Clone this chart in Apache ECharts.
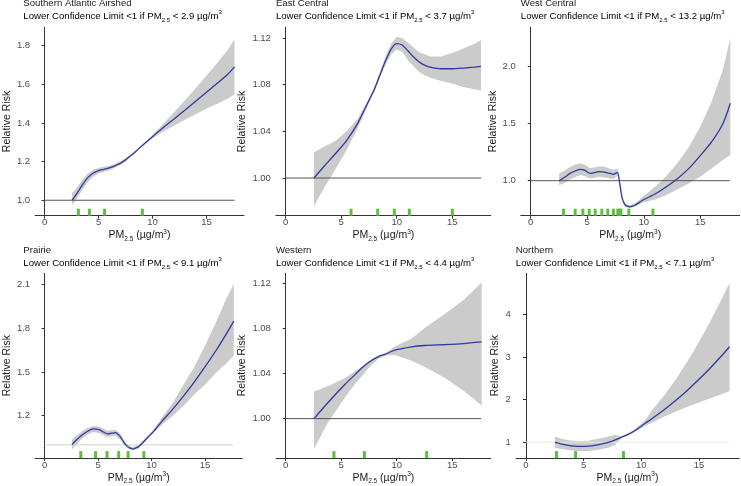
<!DOCTYPE html>
<html>
<head>
<meta charset="utf-8">
<script src="https://cdn.jsdelivr.net/npm/echarts@6/dist/echarts.min.js"></script>
<style>
html,body{margin:0;padding:0;background:#fff;}
#c{width:741px;height:486px;}
</style>
</head>
<body>
<div id="c"></div>
<script>
// ---------------- DATA ----------------
const panelTitles = ['Southern Atlantic Airshed', 'East Central', 'West Central', 'Prairie', 'Western', 'Northern'];
const lclThresholds = ['2.9', '3.7', '13.2', '9.1', '4.4', '7.1'];
const xTickValues = [0, 5, 10, 15];
const yTicks1 = [1.0, 1.2, 1.4, 1.6, 1.8];
const yTicks2 = [1.00, 1.04, 1.08, 1.12];
const yTicks3 = [1.0, 1.5, 2.0];
const yTicks4 = [1.2, 1.5, 1.8, 2.1];
const yTicks5 = [1.00, 1.04, 1.08, 1.12];
const yTicks6 = [1, 2, 3, 4];
const refLineX = [0, 17.6];

// Southern Atlantic Airshed
const p1X   = [2.55, 3, 3.5, 4, 4.5, 5, 5.5, 6, 6.5, 7, 7.5, 8, 8.5, 9, 10, 11, 12, 13, 14, 15, 16, 17, 17.6];
const p1Mid = [1.000, 1.036, 1.079, 1.117, 1.140, 1.153, 1.160, 1.167, 1.178, 1.191, 1.209, 1.231, 1.255, 1.281, 1.329, 1.376, 1.421, 1.466, 1.512, 1.559, 1.605, 1.653, 1.690];
const p1Hi  = [1.038, 1.066, 1.105, 1.139, 1.158, 1.168, 1.173, 1.179, 1.188, 1.200, 1.217, 1.237, 1.260, 1.284, 1.337, 1.396, 1.456, 1.516, 1.579, 1.644, 1.710, 1.780, 1.833];
const p1Lo  = [0.975, 1.008, 1.054, 1.095, 1.122, 1.138, 1.147, 1.155, 1.168, 1.182, 1.201, 1.225, 1.250, 1.278, 1.321, 1.356, 1.386, 1.416, 1.445, 1.474, 1.500, 1.526, 1.547];
const p1Rug = [3.13, 4.15, 5.56, 9.06];

// East Central
const p2X   = [2.55, 3.5, 4.5, 5.5, 6.5, 7.5, 8, 8.5, 9, 9.5, 10, 10.5, 11, 11.5, 12, 12.5, 13, 14, 15, 16, 17, 17.6];
const p2Mid = [1.000, 1.0105, 1.021, 1.0323, 1.047, 1.0664, 1.0763, 1.0885, 1.1004, 1.1104, 1.1152, 1.114, 1.109, 1.1038, 1.0996, 1.0967, 1.095, 1.0936, 1.0936, 1.0942, 1.095, 1.0956];
const p2Hi  = [1.022, 1.027, 1.032, 1.040, 1.051, 1.068, 1.078, 1.091, 1.104, 1.115, 1.121, 1.120, 1.116, 1.112, 1.108, 1.106, 1.104, 1.104, 1.107, 1.111, 1.115, 1.118];
const p2Lo  = [0.976, 0.992, 1.008, 1.024, 1.043, 1.064, 1.074, 1.086, 1.097, 1.106, 1.110, 1.108, 1.101, 1.096, 1.091, 1.088, 1.086, 1.083, 1.081, 1.078, 1.076, 1.075];
const p2Rug = [5.89, 8.29, 9.79, 11.14, 15.02];

// West Central
const p3X   = [2.51, 3, 3.48, 4, 4.4, 4.8, 5.26, 5.6, 6, 6.4, 6.73, 7, 7.32, 7.5, 7.68, 7.85, 8.06, 8.2, 8.36, 8.6, 8.8, 9.2, 9.7, 10, 11, 12, 13, 14, 15, 16, 17, 17.66];
const p3Mid = [1.0, 1.03, 1.064, 1.088, 1.099, 1.09, 1.064, 1.07, 1.079, 1.078, 1.07, 1.064, 1.056, 1.065, 1.073, 0.991, 0.86, 0.815, 0.787, 0.775, 0.772, 0.785, 0.816, 0.835, 0.883, 0.947, 1.02, 1.108, 1.22, 1.34, 1.5, 1.68];
const p3Hi  = [1.064, 1.09, 1.12, 1.145, 1.152, 1.14, 1.11, 1.115, 1.125, 1.125, 1.115, 1.105, 1.095, 1.1, 1.1, 1.01, 0.875, 0.83, 0.8, 0.787, 0.784, 0.8, 0.84, 0.865, 0.947, 1.041, 1.158, 1.298, 1.474, 1.693, 1.971, 2.249];
const p3Lo  = [0.962, 0.98, 1.01, 1.035, 1.05, 1.04, 1.02, 1.025, 1.035, 1.03, 1.025, 1.02, 1.015, 1.03, 1.045, 0.97, 0.845, 0.8, 0.774, 0.763, 0.76, 0.77, 0.795, 0.81, 0.836, 0.874, 0.924, 0.977, 1.035, 1.108, 1.181, 1.225];
const p3Rug = [2.89, 3.93, 4.61, 5.17, 5.7, 6.29, 6.82, 7.32, 7.7, 7.85, 7.97, 8.68, 10.81];

// Prairie
const p4X   = [2.56, 3, 3.54, 4, 4.57, 5.16, 5.5, 5.89, 6.3, 6.63, 7.07, 7.4, 7.66, 8, 8.25, 8.5, 8.84, 9.43, 10.17, 11, 12, 13, 14, 15, 16, 17, 17.68];
const p4Mid = [1.002, 1.035, 1.069, 1.092, 1.109, 1.102, 1.088, 1.075, 1.08, 1.084, 1.057, 1.02, 0.995, 0.978, 0.973, 0.978, 0.991, 1.035, 1.091, 1.164, 1.247, 1.336, 1.432, 1.536, 1.645, 1.763, 1.848];
const p4Hi  = [1.035, 1.065, 1.095, 1.115, 1.13, 1.124, 1.11, 1.097, 1.1, 1.104, 1.078, 1.037, 1.008, 0.99, 0.985, 0.99, 1.003, 1.045, 1.103, 1.191, 1.291, 1.414, 1.536, 1.681, 1.837, 2.004, 2.104];
const p4Lo  = [0.97, 1.005, 1.043, 1.069, 1.088, 1.08, 1.066, 1.053, 1.06, 1.064, 1.036, 1.003, 0.982, 0.966, 0.961, 0.966, 0.979, 1.025, 1.079, 1.14, 1.202, 1.269, 1.347, 1.414, 1.492, 1.559, 1.614];
const p4Rug = [3.39, 4.77, 5.84, 6.93, 7.81, 9.28];

// Western
const p5X   = [2.55, 3.84, 5.35, 6.25, 6.85, 7.5, 8.35, 8.95, 9.85, 11.35, 12.5, 14.35, 16, 17.66];
const p5Mid = [1.0, 1.0145, 1.0304, 1.039, 1.0448, 1.05, 1.055, 1.057, 1.0607, 1.0636, 1.0648, 1.0656, 1.0665, 1.068];
const p5Hi  = [1.024, 1.029, 1.036, 1.042, 1.046, 1.051, 1.056, 1.058, 1.064, 1.071, 1.08, 1.093, 1.105, 1.1206];
const p5Lo  = [0.973, 0.997, 1.019, 1.031, 1.0376, 1.045, 1.053, 1.056, 1.0564, 1.0512, 1.046, 1.0361, 1.025, 1.0116];
const p5Rug = [4.35, 7.09, 12.7];

// Northern
const p6X   = [2.51, 3, 3.66, 4.2, 4.82, 5.4, 5.97, 6.5, 7.12, 7.7, 8.28, 8.9, 9.43, 10.3, 11, 12, 13, 14, 15, 16, 17, 17.65];
const p6Mid = [0.992, 0.96, 0.923, 0.906, 0.9, 0.905, 0.923, 0.952, 0.992, 1.048, 1.115, 1.19, 1.269, 1.437, 1.566, 1.766, 1.984, 2.221, 2.476, 2.749, 3.04, 3.24];
const p6Hi  = [1.13, 1.085, 1.045, 1.03, 1.025, 1.035, 1.06, 1.09, 1.13, 1.17, 1.14, 1.215, 1.3, 1.5, 1.78, 2.1, 2.48, 2.9, 3.35, 3.85, 4.38, 4.74];
const p6Lo  = [0.87, 0.845, 0.815, 0.8, 0.79, 0.792, 0.81, 0.835, 0.87, 0.935, 1.09, 1.165, 1.24, 1.38, 1.47, 1.6, 1.72, 1.83, 1.93, 2.03, 2.13, 2.2];
const p6Rug = [2.65, 4.3, 8.45];

// ---------------- LAYOUT / STYLE ----------------
const FONT = 'Liberation Sans, Arial, sans-serif';
const panels = [
  {x:p1X, mid:p1Mid, hi:p1Hi, lo:p1Lo, rug:p1Rug, ticks:yTicks1, ymin:0.920, ymax:1.895, left:23.3, top:27.3, width:220.7, height:188.4, nameGap:13, refColor:'#555555', fmt:1},
  {x:p2X, mid:p2Mid, hi:p2Hi, lo:p2Lo, rug:p2Rug, ticks:yTicks2, ymin:0.9677, ymax:1.1291, left:275.9, top:27.3, width:214.9, height:188.4, nameGap:18, refColor:'#555555', fmt:2},
  {x:p3X, mid:p3Mid, hi:p3Hi, lo:p3Lo, rug:p3Rug, ticks:yTicks3, ymin:0.693, ymax:2.3456, left:520.8, top:27.3, width:218.8, height:188.4, nameGap:20, refColor:'#555555', fmt:1},
  {x:p4X, mid:p4Mid, hi:p4Hi, lo:p4Lo, rug:p4Rug, ticks:yTicks4, ymin:0.9094, ymax:2.1758, left:23.35, top:273.3, width:219, height:188.7, nameGap:13, refColor:'#cfcfcf', fmt:1},
  {x:p5X, mid:p5Mid, hi:p5Hi, lo:p5Lo, rug:p5Rug, ticks:yTicks5, ymin:0.965, ymax:1.1288, left:275.9, top:273.3, width:214.9, height:188.7, nameGap:18, refColor:'#555555', fmt:2},
  {x:p6X, mid:p6Mid, hi:p6Hi, lo:p6Lo, rug:p6Rug, ticks:yTicks6, ymin:0.625, ymax:4.966, left:515.85, top:273.3, width:223.3, height:188.7, nameGap:15, refColor:'#e6e6e6', fmt:0}
];
const XMIN = -0.88, XMAX = 18.48;
const richStyles = {
  t: {fontSize: 9.6, lineHeight: 14, fontFamily: FONT, color: '#1a1a1a'},
  sub: {fontSize: 6, lineHeight: 8, verticalAlign: 'bottom', fontFamily: FONT, color: '#1a1a1a'},
  sup: {fontSize: 6, lineHeight: 8, verticalAlign: 'top', fontFamily: FONT, color: '#1a1a1a'}
};
const axRich = {
  t: {fontSize: 10.5, lineHeight: 14, fontFamily: FONT, color: '#1a1a1a'},
  sub: {fontSize: 6.5, lineHeight: 8, verticalAlign: 'bottom', fontFamily: FONT, color: '#1a1a1a'},
  sup: {fontSize: 6.5, lineHeight: 8, verticalAlign: 'top', fontFamily: FONT, color: '#1a1a1a'}
};

const grids = [], xAxes = [], yAxes = [], series = [], graphics = [];
panels.forEach((p, i) => {
  grids.push({left: p.left, top: p.top, width: p.width, height: p.height, containLabel: false});
  xAxes.push({
    type: 'value', gridIndex: i, min: XMIN, max: XMAX,
    name: '{t|PM}{sub|2.5}{t| (µg/m}{sup|3}{t|)}', nameLocation: 'middle', nameGap: 7,
    nameTextStyle: {rich: axRich},
    axisLine: {lineStyle: {color: '#333', width: 1}},
    axisTick: {length: 3, lineStyle: {color: '#333'}, customValues: xTickValues},
    axisLabel: {customValues: xTickValues, fontSize: 9.5, color: '#4d4d4d', fontFamily: FONT, margin: 2},
    splitLine: {show: false}
  });
  yAxes.push({
    type: 'value', gridIndex: i, min: p.ymin, max: p.ymax,
    name: 'Relative Risk', nameLocation: 'middle', nameGap: p.nameGap,
    nameTextStyle: {fontSize: 10.5, color: '#1a1a1a', fontFamily: FONT, lineHeight: 12},
    axisLine: {show: true, lineStyle: {color: '#333', width: 1}},
    axisTick: {show: true, length: 3, lineStyle: {color: '#333'}, customValues: p.ticks},
    axisLabel: {customValues: p.ticks, fontSize: 9.5, color: '#4d4d4d', fontFamily: FONT, margin: 5,
      formatter: v => v.toFixed(p.fmt)},
    splitLine: {show: false}
  });
  // confidence band
  series.push({
    type: 'custom', xAxisIndex: i, yAxisIndex: i, silent: true, z: 1,
    data: [[p.x[0], p.mid[0]]],
    renderItem: (params, api) => {
      const pts = [];
      for (let k = 0; k < p.x.length; k++) pts.push(api.coord([p.x[k], p.hi[k]]));
      for (let k = p.x.length - 1; k >= 0; k--) pts.push(api.coord([p.x[k], p.lo[k]]));
      return {type: 'polygon', shape: {points: pts, smooth: 0}, style: {fill: '#cbcbcb'}};
    }
  });
  // reference line at RR = 1
  series.push({
    type: 'line', xAxisIndex: i, yAxisIndex: i, silent: true, z: 2, showSymbol: false,
    data: refLineX.map(x => [x, 1]),
    lineStyle: {color: p.refColor, width: 1}
  });
  // fitted curve
  series.push({
    type: 'line', xAxisIndex: i, yAxisIndex: i, silent: true, z: 3, showSymbol: false,
    smooth: 0.25,
    data: p.x.map((x, k) => [x, p.mid[k]]),
    lineStyle: {color: '#2d3a9e', width: 1.3}
  });
  // rug
  series.push({
    type: 'custom', xAxisIndex: i, yAxisIndex: i, silent: true, z: 4,
    data: p.rug.map(x => [x, p.ymin]),
    renderItem: (params, api) => {
      const c = api.coord([api.value(0), api.value(1)]);
      return {type: 'rect', shape: {x: c[0] - 1.5, y: c[1] - 7, width: 3, height: 7}, style: {fill: '#5fbf3c'}};
    }
  });
  // titles
  const ty = i < 3 ? 3.2 : 250.5;
  graphics.push({type: 'text', x: p.left, y: ty, style: {
    text: panelTitles[i], font: '9.6px ' + FONT, fill: '#1a1a1a', align: 'left', verticalAlign: 'middle'}});
  graphics.push({type: 'text', x: p.left, y: ty + 13.3, style: {
    text: '{t|Lower Confidence Limit <1 if PM}{sub|2.5}{t| < ' + lclThresholds[i] + ' µg/m}{sup|3}',
    rich: richStyles, align: 'left', verticalAlign: 'middle'}});
});

const chart = echarts.init(document.getElementById('c'), null, {renderer: 'canvas'});
chart.setOption({
  animation: false,
  backgroundColor: '#ffffff',
  grid: grids, xAxis: xAxes, yAxis: yAxes, series: series, graphic: graphics
});
</script>
</body>
</html>
